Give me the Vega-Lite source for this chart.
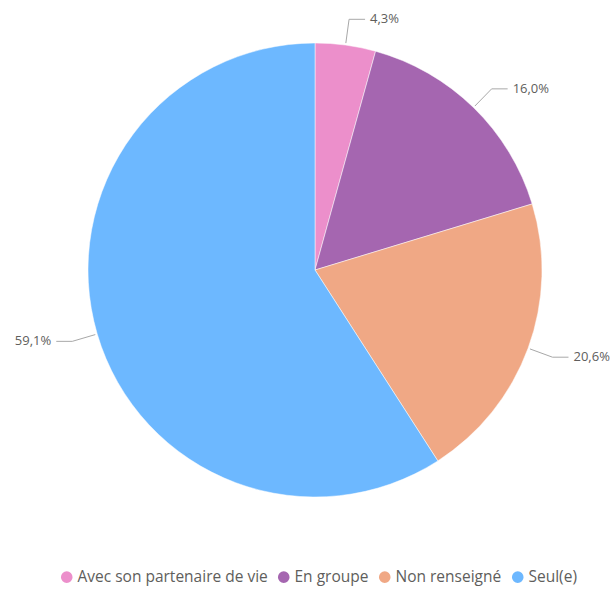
{
  "$schema": "https://vega.github.io/schema/vega-lite/v6.json",
  "width": 630,
  "height": 540,
  "autosize": {"type": "none"},
  "padding": {"left": 0, "top": 0, "right": 0, "bottom": 50},
  "config": {
    "view": {"stroke": null},
    "font": "Open Sans",
    "locale": {"number": {"decimal": ",", "thousands": " ", "grouping": [3], "currency": ["", " €"]}}
  },
  "data": {
    "values": [
      {"categorie": "Avec son partenaire de vie", "part": 0.043},
      {"categorie": "En groupe", "part": 0.160},
      {"categorie": "Non renseigné", "part": 0.206},
      {"categorie": "Seul(e)", "part": 0.591}
    ]
  },
  "layer": [
    {
      "mark": {"type": "arc", "outerRadius": 227, "stroke": "#ffffff", "strokeWidth": 0.5},
      "encoding": {
        "theta": {"field": "part", "type": "quantitative", "stack": true},
        "color": {
          "field": "categorie",
          "type": "nominal",
          "scale": {
            "domain": ["Avec son partenaire de vie", "En groupe", "Non renseigné", "Seul(e)"],
            "range": ["#EC8FCB", "#A566B0", "#F0A885", "#6DB8FF"]
          },
          "legend": {
            "orient": "none",
            "legendX": 59,
            "legendY": 569,
            "direction": "horizontal",
            "title": null,
            "symbolType": "circle",
            "symbolSize": 135,
            "symbolStrokeWidth": 0,
            "labelFontSize": 15.5,
            "labelLimit": 400,
            "labelColor": "#605E5C",
            "labelOffset": 3,
            "columnPadding": 8
          }
        }
      }
    },
    {
      "transform": [
        {"window": [{"op": "sum", "field": "part", "as": "cum"}], "sort": [{"field": "categorie"}]}
      ],
      "mark": {"type": "rule", "stroke": "#A8A8A8", "strokeWidth": 1},
      "encoding": {
        "x": {"value": {"expr": "width/2 + 229*sin(2*PI*(datum.cum - datum.part/2))"}},
        "y": {"value": {"expr": "height/2 - 229*cos(2*PI*(datum.cum - datum.part/2))"}},
        "x2": {"value": {"expr": "width/2 + 253*sin(2*PI*(datum.cum - datum.part/2))"}},
        "y2": {"value": {"expr": "height/2 - 253*cos(2*PI*(datum.cum - datum.part/2))"}}
      }
    },
    {
      "transform": [
        {"window": [{"op": "sum", "field": "part", "as": "cum"}], "sort": [{"field": "categorie"}]}
      ],
      "mark": {"type": "rule", "stroke": "#A8A8A8", "strokeWidth": 1},
      "encoding": {
        "x": {"value": {"expr": "width/2 + 253*sin(2*PI*(datum.cum - datum.part/2))"}},
        "y": {"value": {"expr": "height/2 - 253*cos(2*PI*(datum.cum - datum.part/2))"}},
        "x2": {"value": {"expr": "width/2 + 253*sin(2*PI*(datum.cum - datum.part/2)) + ((datum.cum - datum.part/2) > 0.5 ? -16 : 16)"}},
        "y2": {"value": {"expr": "height/2 - 253*cos(2*PI*(datum.cum - datum.part/2))"}}
      }
    },
    {
      "mark": {
        "type": "text",
        "radius": 253,
        "fontSize": 13,
        "fill": "#605E5C",
        "align": {"expr": "(datum.part_start + datum.part_end) / 2 > 0.5 ? 'right' : 'left'"},
        "dx": {"expr": "(datum.part_start + datum.part_end) / 2 > 0.5 ? -21 : 21"},
        "baseline": "middle"
      },
      "encoding": {
        "theta": {"field": "part", "type": "quantitative", "stack": true},
        "detail": {"field": "categorie", "type": "nominal"},
        "text": {"field": "part", "type": "quantitative", "format": ".1%"}
      }
    }
  ]
}
